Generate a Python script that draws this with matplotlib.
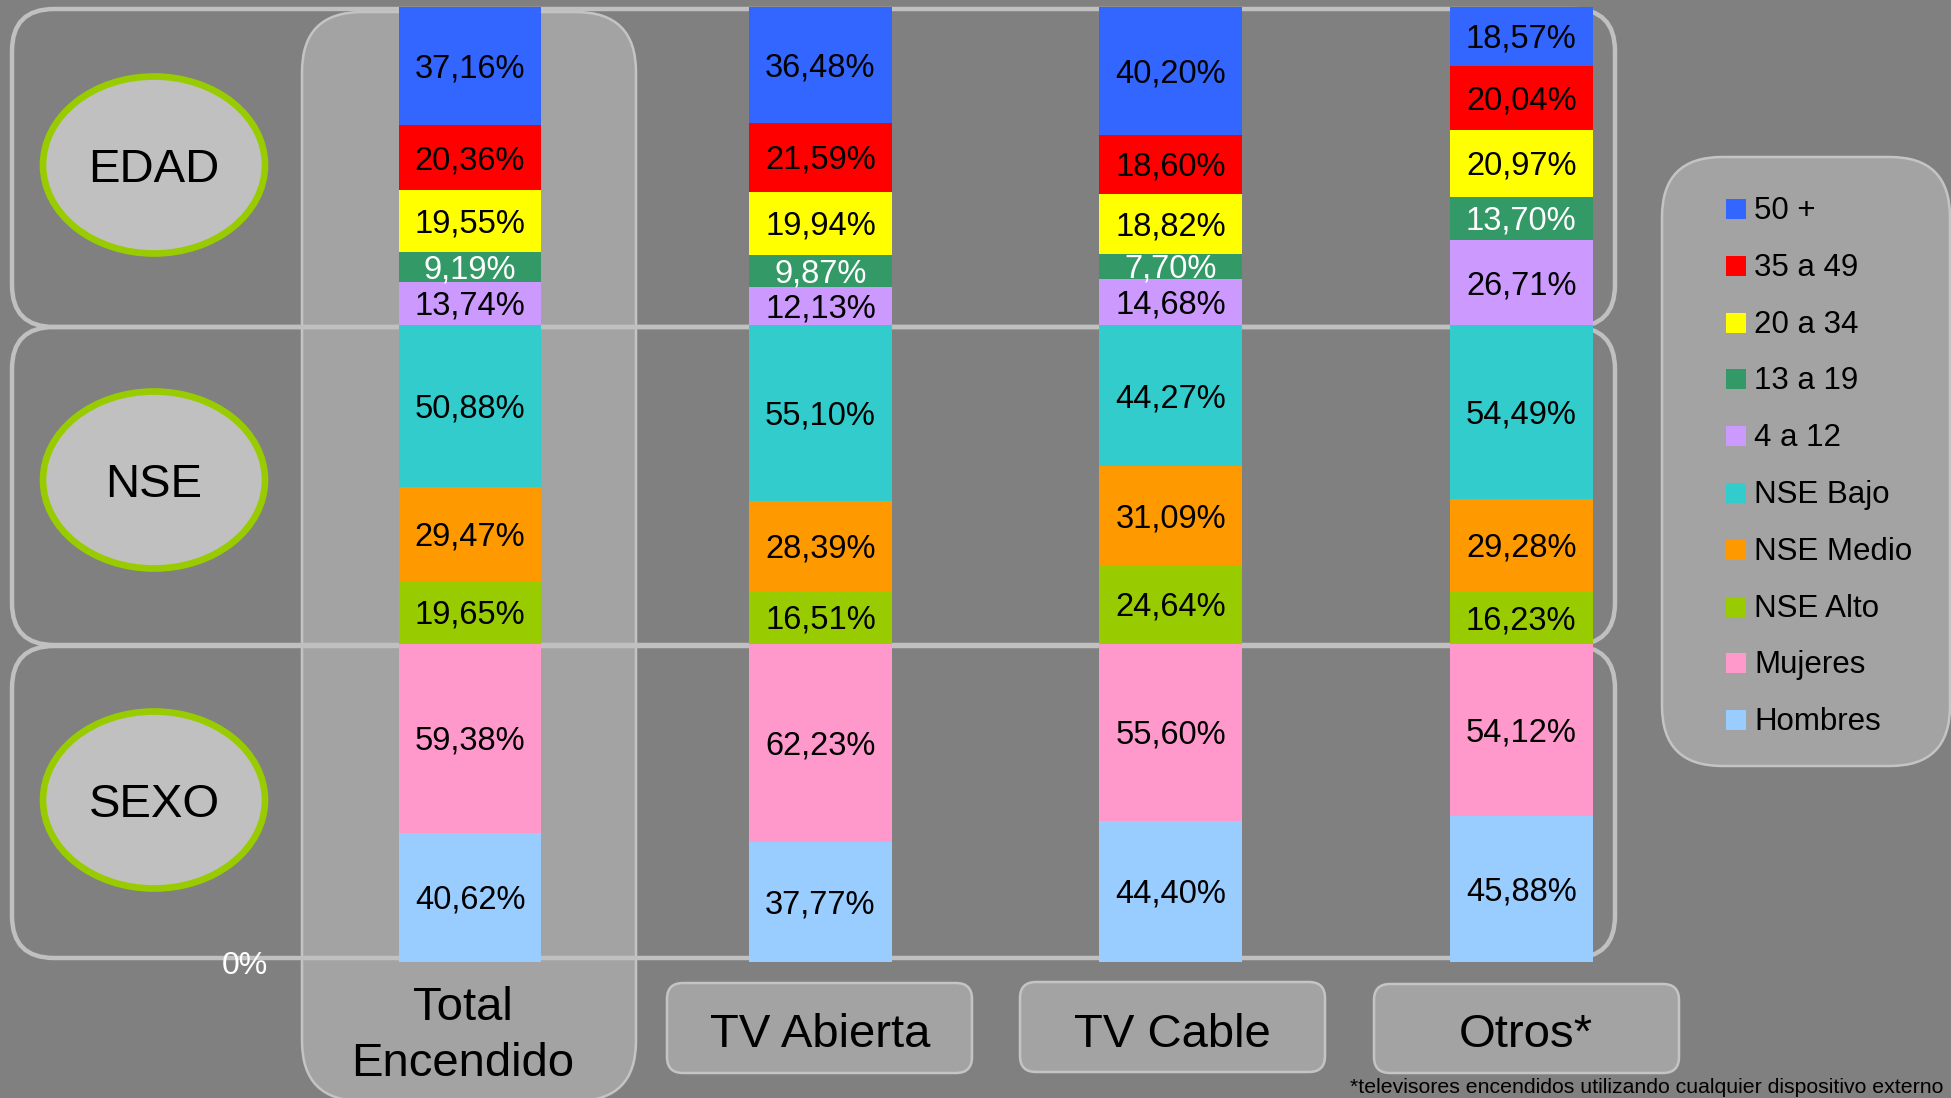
import matplotlib
matplotlib.use('Agg')
import matplotlib.pyplot as plt
from matplotlib.patches import FancyBboxPatch, Ellipse, Rectangle
import numpy as np

plt.rcParams['font.family'] = ['Liberation Sans', 'DejaVu Sans']

# ---------------- data ----------------
categories = ['Total Encendido', 'TV Abierta', 'TV Cable', 'Otros*']
cat_labels = ['Total\nEncendido', 'TV Abierta', 'TV Cable', 'Otros*']
section_names = ['SEXO', 'NSE', 'EDAD']          # bottom to top

hombres    = [40.62, 37.77, 44.40, 45.88]
mujeres    = [59.38, 62.23, 55.60, 54.12]
nse_alto   = [19.65, 16.51, 24.64, 16.23]
nse_medio  = [29.47, 28.39, 31.09, 29.28]
nse_bajo   = [50.88, 55.10, 44.27, 54.49]
edad_4_12  = [13.74, 12.13, 14.68, 26.71]
edad_13_19 = [9.19, 9.87, 7.70, 13.70]
edad_20_34 = [19.55, 19.94, 18.82, 20.97]
edad_35_49 = [20.36, 21.59, 18.60, 20.04]
edad_50    = [37.16, 36.48, 40.20, 18.57]

# (legend label, values, colour, section index, label colour) bottom -> top
series = [
    ('Hombres',   hombres,    '#99CCFF', 0, 'black'),
    ('Mujeres',   mujeres,    '#FF99CC', 0, 'black'),
    ('NSE Alto',  nse_alto,   '#99CC00', 1, 'black'),
    ('NSE Medio', nse_medio,  '#FF9900', 1, 'black'),
    ('NSE Bajo',  nse_bajo,   '#33CCCC', 1, 'black'),
    ('4 a 12',    edad_4_12,  '#CC99FF', 2, 'black'),
    ('13 a 19',   edad_13_19, '#339966', 2, 'white'),
    ('20 a 34',   edad_20_34, '#FFFF00', 2, 'black'),
    ('35 a 49',   edad_35_49, '#FF0000', 2, 'black'),
    ('50 +',      edad_50,    '#3366FF', 2, 'black'),
]
footnote = '*televisores encendidos utilizando cualquier dispositivo externo'

# ---------------- figure ----------------
W, H = 1951, 1098
BG = '#808080'
BOXFILL = '#a3a3a3'
BOXEDGE = '#c4c4c4'
fig = plt.figure(figsize=(W / 100, H / 100), dpi=100, facecolor=BG)

# decoration axes in pixel coordinates (y downwards)
deco = fig.add_axes([0, 0, 1, 1])
deco.set_xlim(0, W)
deco.set_ylim(H, 0)
deco.axis('off')
deco.set_facecolor(BG)

def rbox(x0, y0, x1, y1, r, fc, ec, lw, z):
    p = FancyBboxPatch((x0, y0), x1 - x0, y1 - y0,
                       boxstyle=f'round,pad=0,rounding_size={r}',
                       fc=fc, ec=ec, lw=lw, zorder=z)
    deco.add_patch(p)

# Total column background
rbox(302, 12, 636, 1101, 60, BOXFILL, BOXEDGE, 1.8, 1)
# legend box
rbox(1662, 157, 1950, 766, 60, BOXFILL, BOXEDGE, 1.8, 1)
# category boxes
for (x0, y0, x1, y1) in [(667, 983, 972, 1073), (1020, 982, 1325, 1072), (1374, 984, 1679, 1073)]:
    rbox(x0, y0, x1, y1, 16, BOXFILL, BOXEDGE, 1.8, 1)
# section boxes
for (y0, y1) in [(9, 327), (327, 645), (646, 958)]:
    rbox(12, y0, 1615, y1, 42, 'none', '#c0c0c0', 3.2, 2)

# section ellipses (top to bottom)
for name, cy in zip(section_names[::-1], [165, 480, 800]):
    e = Ellipse((154, cy), 222, 177, fc='#c0c0c0', ec='#99CC00', lw=4.8, zorder=3)
    deco.add_patch(e)
    deco.text(154, cy + 5, name, ha='center', va='center', fontsize=34, color='black', zorder=4)

# category labels
deco.text(463, 1036, cat_labels[0], ha='center', va='center', fontsize=34,
          linespacing=1.37, zorder=4)
for lab, cx in zip(cat_labels[1:], [820, 1172, 1526]):
    deco.text(cx, 1035, lab, ha='center', va='center', fontsize=34, zorder=4)

# 0% label
deco.text(245, 966, '0%', ha='center', va='center', fontsize=23, color='white', zorder=5)

# footnote (at the bottom edge, as in original)
deco.text(1943, 1093, footnote, ha='right', va='baseline', fontsize=15.3, color='black', zorder=5)

# legend entries
for i, (name, vals, col, sec, tc) in enumerate(series[::-1]):
    yc = 209 + i * 56.8
    deco.add_patch(Rectangle((1726, yc - 10), 20, 20, fc=col, ec='none', zorder=3))
    deco.text(1754, yc + 2, name, ha='left', va='center', fontsize=22.5, color='black', zorder=4)

# ---------------- bars ----------------
ax = fig.add_axes([0, 0, 1, 1])
ax.set_zorder(2)
ax.patch.set_visible(False)
ax.axis('off')
x0_px, step_px = 470.0, 350.4
y0_px, scale = 962.0, 955.0 / 300.0
ax.set_xlim((0 - x0_px) / step_px, (W - x0_px) / step_px)
ax.set_ylim(-(H - y0_px) / scale, y0_px / scale)

x = np.arange(len(categories))
cum = {0: np.zeros(len(categories)), 1: np.zeros(len(categories)), 2: np.zeros(len(categories))}
for name, vals, col, sec, tc in series:
    v = np.array(vals)
    bottom = sec * 100 + cum[sec]
    ax.bar(x, v, bottom=bottom, width=0.408, color=col, edgecolor='none', zorder=2)
    for xi, vi, bi in zip(x, v, bottom):
        ax.text(xi, bi + vi / 2 - 0.9, f'{vi:.2f}%'.replace('.', ','), ha='center', va='center',
                fontsize=23.5, color=tc, zorder=3)
    cum[sec] = cum[sec] + v

fig.savefig('out.png', dpi=100, facecolor=BG)
